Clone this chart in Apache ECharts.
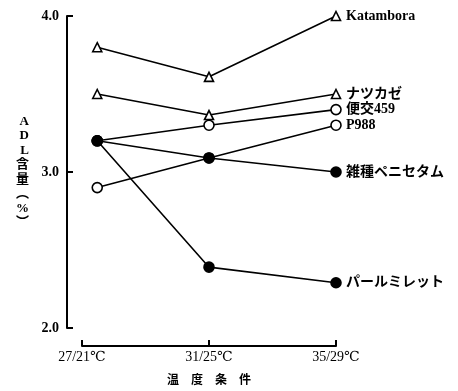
<!DOCTYPE html>
<html><head><meta charset="utf-8">
<script src="https://cdn.jsdelivr.net/npm/echarts@6/dist/echarts.min.js"></script>
<style>html,body{margin:0;padding:0;background:#fff}#c{width:458px;height:391px}</style>
</head><body><div id="c"></div>
<script>
var categories = ['27/21℃', '31/25℃', '35/29℃'];
var xPos = [0.12, 1, 2];
var katambora = [3.80, 3.61, 4.00];
var natsukaze = [3.50, 3.365, 3.50];
var benko459 = [3.20, 3.30, 3.40];
var p988 = [2.90, 3.09, 3.30];
var zasshu = [3.20, 3.09, 3.00];
var pearl = [3.20, 2.39, 2.29];
var yTicks = [2.0, 3.0, 4.0];

var serif = '"Liberation Serif", "DejaVu Serif", serif';
var mixed = '"Liberation Serif", "Noto Sans CJK JP", sans-serif';
var jp = '"Noto Sans CJK JP", sans-serif';

function pts(vals) { return vals.map(function (v, i) { return [xPos[i], v]; }); }
function mk(name, vals, symbol, filled) {
  return {
    name: name, type: 'line', data: pts(vals), symbol: symbol,
    symbolSize: symbol === 'triangle' ? 9 : 10,
    lineStyle: { color: '#000', width: 1.6 },
    itemStyle: { color: filled ? '#000' : '#fff', borderColor: '#000', borderWidth: 1.6 },
    endLabel: { show: true, formatter: '{a}', color: '#000', fontSize: 14, fontWeight: 'bold', fontFamily: mixed, distance: 10 },
    animation: false, z: filled ? 3 : 2
  };
}

var chart = echarts.init(document.getElementById('c'));
chart.setOption({
  backgroundColor: '#fff',
  animation: false,
  grid: { left: 82, right: 122, top: 16, bottom: 63 },
  xAxis: {
    type: 'value', min: 0, max: 2, interval: 1, offset: 18,
    axisLine: { show: true, onZero: false, lineStyle: { color: '#000', width: 2 } },
    axisTick: { show: true, inside: true, length: 6, lineStyle: { color: '#000', width: 2 } },
    splitLine: { show: false },
    axisLabel: { color: '#000', fontFamily: serif, fontSize: 14, margin: 4, formatter: function (v) { return categories[Math.round(v)]; } },
    name: '温　度　条　件', nameLocation: 'middle', nameGap: 27,
    nameTextStyle: { color: '#000', fontFamily: jp, fontSize: 12, fontWeight: 'bold' }
  },
  yAxis: {
    type: 'value', min: 2, max: 4, interval: 1, offset: 15,
    axisLine: { show: true, onZero: false, lineStyle: { color: '#000', width: 2 } },
    axisTick: { show: true, inside: true, length: 6, lineStyle: { color: '#000', width: 2 } },
    splitLine: { show: false },
    axisLabel: { color: '#000', fontFamily: serif, fontSize: 14, fontWeight: 'bold', margin: 8, formatter: function (v) { return yTicks.indexOf(v) >= 0 ? v.toFixed(1) : ''; } },
    name: 'A\nD\nL\n含\n量\n︵\n%\n︶', nameLocation: 'middle', nameGap: 38, nameRotate: 0,
    nameTextStyle: { color: '#000', fontFamily: mixed, fontSize: 13, fontWeight: 'bold', lineHeight: 14.5 }
  },
  series: [
    mk('Katambora', katambora, 'triangle', false),
    mk('ナツカゼ', natsukaze, 'triangle', false),
    mk('便交459', benko459, 'circle', false),
    mk('P988', p988, 'circle', false),
    mk('雑種ペニセタム', zasshu, 'circle', true),
    mk('パールミレット', pearl, 'circle', true)
  ]
});
</script></body></html>
